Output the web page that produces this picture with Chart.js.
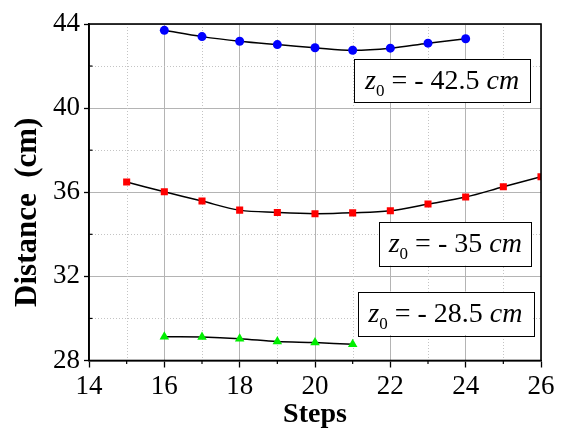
<!DOCTYPE html>
<html>
<head>
<meta charset="utf-8">
<script src="https://cdn.jsdelivr.net/npm/chart.js@4/dist/chart.umd.min.js"></script>
<style>
html,body{margin:0;padding:0;background:#fff;}
#wrap{width:565px;height:432px;}
</style>
</head>
<body>
<div id="wrap"><canvas id="c" width="565" height="432"></canvas></div>
<script>
// Data
const stepsA = [16,17,18,19,20,21,22,23,24];
const distA  = [43.70,43.40,43.18,43.02,42.87,42.75,42.85,43.09,43.30];
const stepsB = [15,16,17,18,19,20,21,22,23,24,25,26];
const distB  = [36.49,36.02,35.58,35.15,35.04,34.98,35.02,35.12,35.44,35.77,36.26,36.74];
const stepsC = [16,17,18,19,20,21];
const distC  = [29.13,29.12,29.04,28.90,28.85,28.77];
const xTicks = [14,16,18,20,22,24,26];
const yTicks = [28,32,36,40,44];
const labelsZ = ['42.5','35','28.5'];
const yTitle = 'Distance  (cm)';
const xTitle = 'Steps';
// annotation boxes in data coords [x1,x2,yTop,yBottom]
const boxesData = [[21.04,25.71,42.32,40.26],[21.71,25.74,34.58,32.51],[21.13,25.79,31.28,29.21]];

const toPts = (xs,ys)=>xs.map((x,i)=>({x:x,y:ys[i]}));
const SERIF = '"Liberation Serif","Times New Roman",serif';

const decor = {
  id:'decor',
  beforeDatasetsDraw(chart){
    const {ctx, chartArea:a, scales:{x,y}} = chart;
    ctx.save();
    ctx.strokeStyle = '#c4c4c4';
    ctx.lineWidth = 1;
    ctx.setLineDash([1,2]);
    for(let v=15; v<26; v+=2){
      const px = Math.round(x.getPixelForValue(v))+0.5;
      ctx.beginPath(); ctx.moveTo(px,a.top); ctx.lineTo(px,a.bottom); ctx.stroke();
    }
    for(let v=30; v<44; v+=4){
      const py = Math.round(y.getPixelForValue(v))+0.5;
      ctx.beginPath(); ctx.moveTo(a.left,py); ctx.lineTo(a.right,py); ctx.stroke();
    }
    ctx.restore();
  },
  afterDraw(chart){
    const {ctx, chartArea:a, scales:{x,y}} = chart;
    ctx.save();
    // frame
    ctx.strokeStyle = '#000';
    ctx.lineWidth = 1.6;
    ctx.strokeRect(a.left, a.top, a.right-a.left, a.bottom-a.top);
    // minor ticks
    ctx.lineWidth = 1.2;
    for(let v=15; v<26; v+=2){
      const px = x.getPixelForValue(v);
      ctx.beginPath(); ctx.moveTo(px,a.bottom); ctx.lineTo(px,a.bottom+3.5); ctx.stroke();
    }
    for(let v=30; v<44; v+=4){
      const py = y.getPixelForValue(v);
      ctx.beginPath(); ctx.moveTo(a.left,py); ctx.lineTo(a.left+3.5,py); ctx.stroke();
    }
    // y axis title
    ctx.save();
    ctx.translate(28, (a.top+a.bottom)/2 + 20);
    ctx.rotate(-Math.PI/2);
    ctx.font = 'bold 31px ' + SERIF;
    ctx.fillStyle = '#000';
    ctx.textAlign = 'center';
    ctx.textBaseline = 'middle';
    ctx.fillText(yTitle, 0, 0);
    ctx.restore();
    // annotation boxes
    boxesData.forEach((b,i)=>{
      const x1 = x.getPixelForValue(b[0]), x2 = x.getPixelForValue(b[1]);
      const y1 = y.getPixelForValue(b[2]), y2 = y.getPixelForValue(b[3]);
      ctx.fillStyle = '#fff';
      ctx.fillRect(x1,y1,x2-x1,y2-y1);
      ctx.strokeStyle = '#000';
      ctx.lineWidth = 1;
      ctx.strokeRect(Math.round(x1)+0.5,Math.round(y1)+0.5,Math.round(x2-x1),Math.round(y2-y1));
      const fs = 28;
      const fItal = 'italic ' + fs + 'px ' + SERIF;
      const fReg = fs + 'px ' + SERIF;
      const fSub = Math.round(fs*0.62) + 'px ' + SERIF;
      const parts = [
        {t:'z', f:fItal, dy:0},
        {t:'0', f:fSub, dy:7},
        {t:' = - ' + labelsZ[i] + ' ', f:fReg, dy:0},
        {t:'cm', f:fItal, dy:0}
      ];
      let w = 0;
      parts.forEach(p=>{ctx.font=p.f; p.w=ctx.measureText(p.t).width; w+=p.w;});
      let cx = (x1+x2)/2 - w/2;
      const base = (y1+y2)/2 + fs*0.3;
      ctx.fillStyle = '#000';
      ctx.textBaseline = 'alphabetic';
      ctx.textAlign = 'left';
      parts.forEach(p=>{ctx.font=p.f; ctx.fillText(p.t, cx, base+p.dy); cx+=p.w;});
    });
    ctx.restore();
  }
};

new Chart(document.getElementById('c'), {
  type:'scatter',
  data:{
    datasets:[
      {data:toPts(stepsA,distA), showLine:true, borderColor:'#000', borderWidth:1.5, tension:0.35,
       pointStyle:'circle', pointRadius:4.5, pointBackgroundColor:'#0000ff', pointBorderColor:'#0000ff', pointBorderWidth:0},
      {data:toPts(stepsB,distB), showLine:true, borderColor:'#000', borderWidth:1.5, tension:0.35,
       pointStyle:'rect', pointRadius:5, pointBackgroundColor:'#ff0000', pointBorderColor:'#ff0000', pointBorderWidth:0},
      {data:toPts(stepsC,distC), showLine:true, borderColor:'#000', borderWidth:1.5, tension:0.35,
       pointStyle:'triangle', pointRadius:5.5, pointBackgroundColor:'#00ee00', pointBorderColor:'#00ee00', pointBorderWidth:0}
    ]
  },
  options:{
    responsive:false,
    animation:false,
    layout:{padding:{top:24,right:24,left:0,bottom:0}},
    plugins:{legend:{display:false}, tooltip:{enabled:false}},
    scales:{
      x:{
        type:'linear', min:14, max:26,
        afterBuildTicks(s){ s.ticks = xTicks.map(v=>({value:v})); },
        afterFit(s){ s.height = 71.5; },
        grid:{color:'#b4b4b4', lineWidth:1, tickColor:'#000', tickLength:7, tickWidth:1.3},
        border:{color:'#000', width:1.6},
        ticks:{color:'#000', padding:3, font:{family:SERIF, size:27}, maxRotation:0},
        title:{display:true, text:xTitle, color:'#000', font:{family:SERIF, size:28, weight:'bold'}, padding:{top:0,bottom:0}}
      },
      y:{
        type:'linear', min:28, max:44,
        afterBuildTicks(s){ s.ticks = yTicks.map(v=>({value:v})); },
        afterFit(s){ s.width = 89; },
        grid:{color:'#b4b4b4', lineWidth:1, tickColor:'#000', tickLength:5, tickWidth:1.3},
        border:{color:'#000', width:1.6},
        ticks:{color:'#000', padding:4, font:{family:SERIF, size:27}},
        title:{display:false}
      }
    }
  },
  plugins:[decor]
});
</script>
</body>
</html>
